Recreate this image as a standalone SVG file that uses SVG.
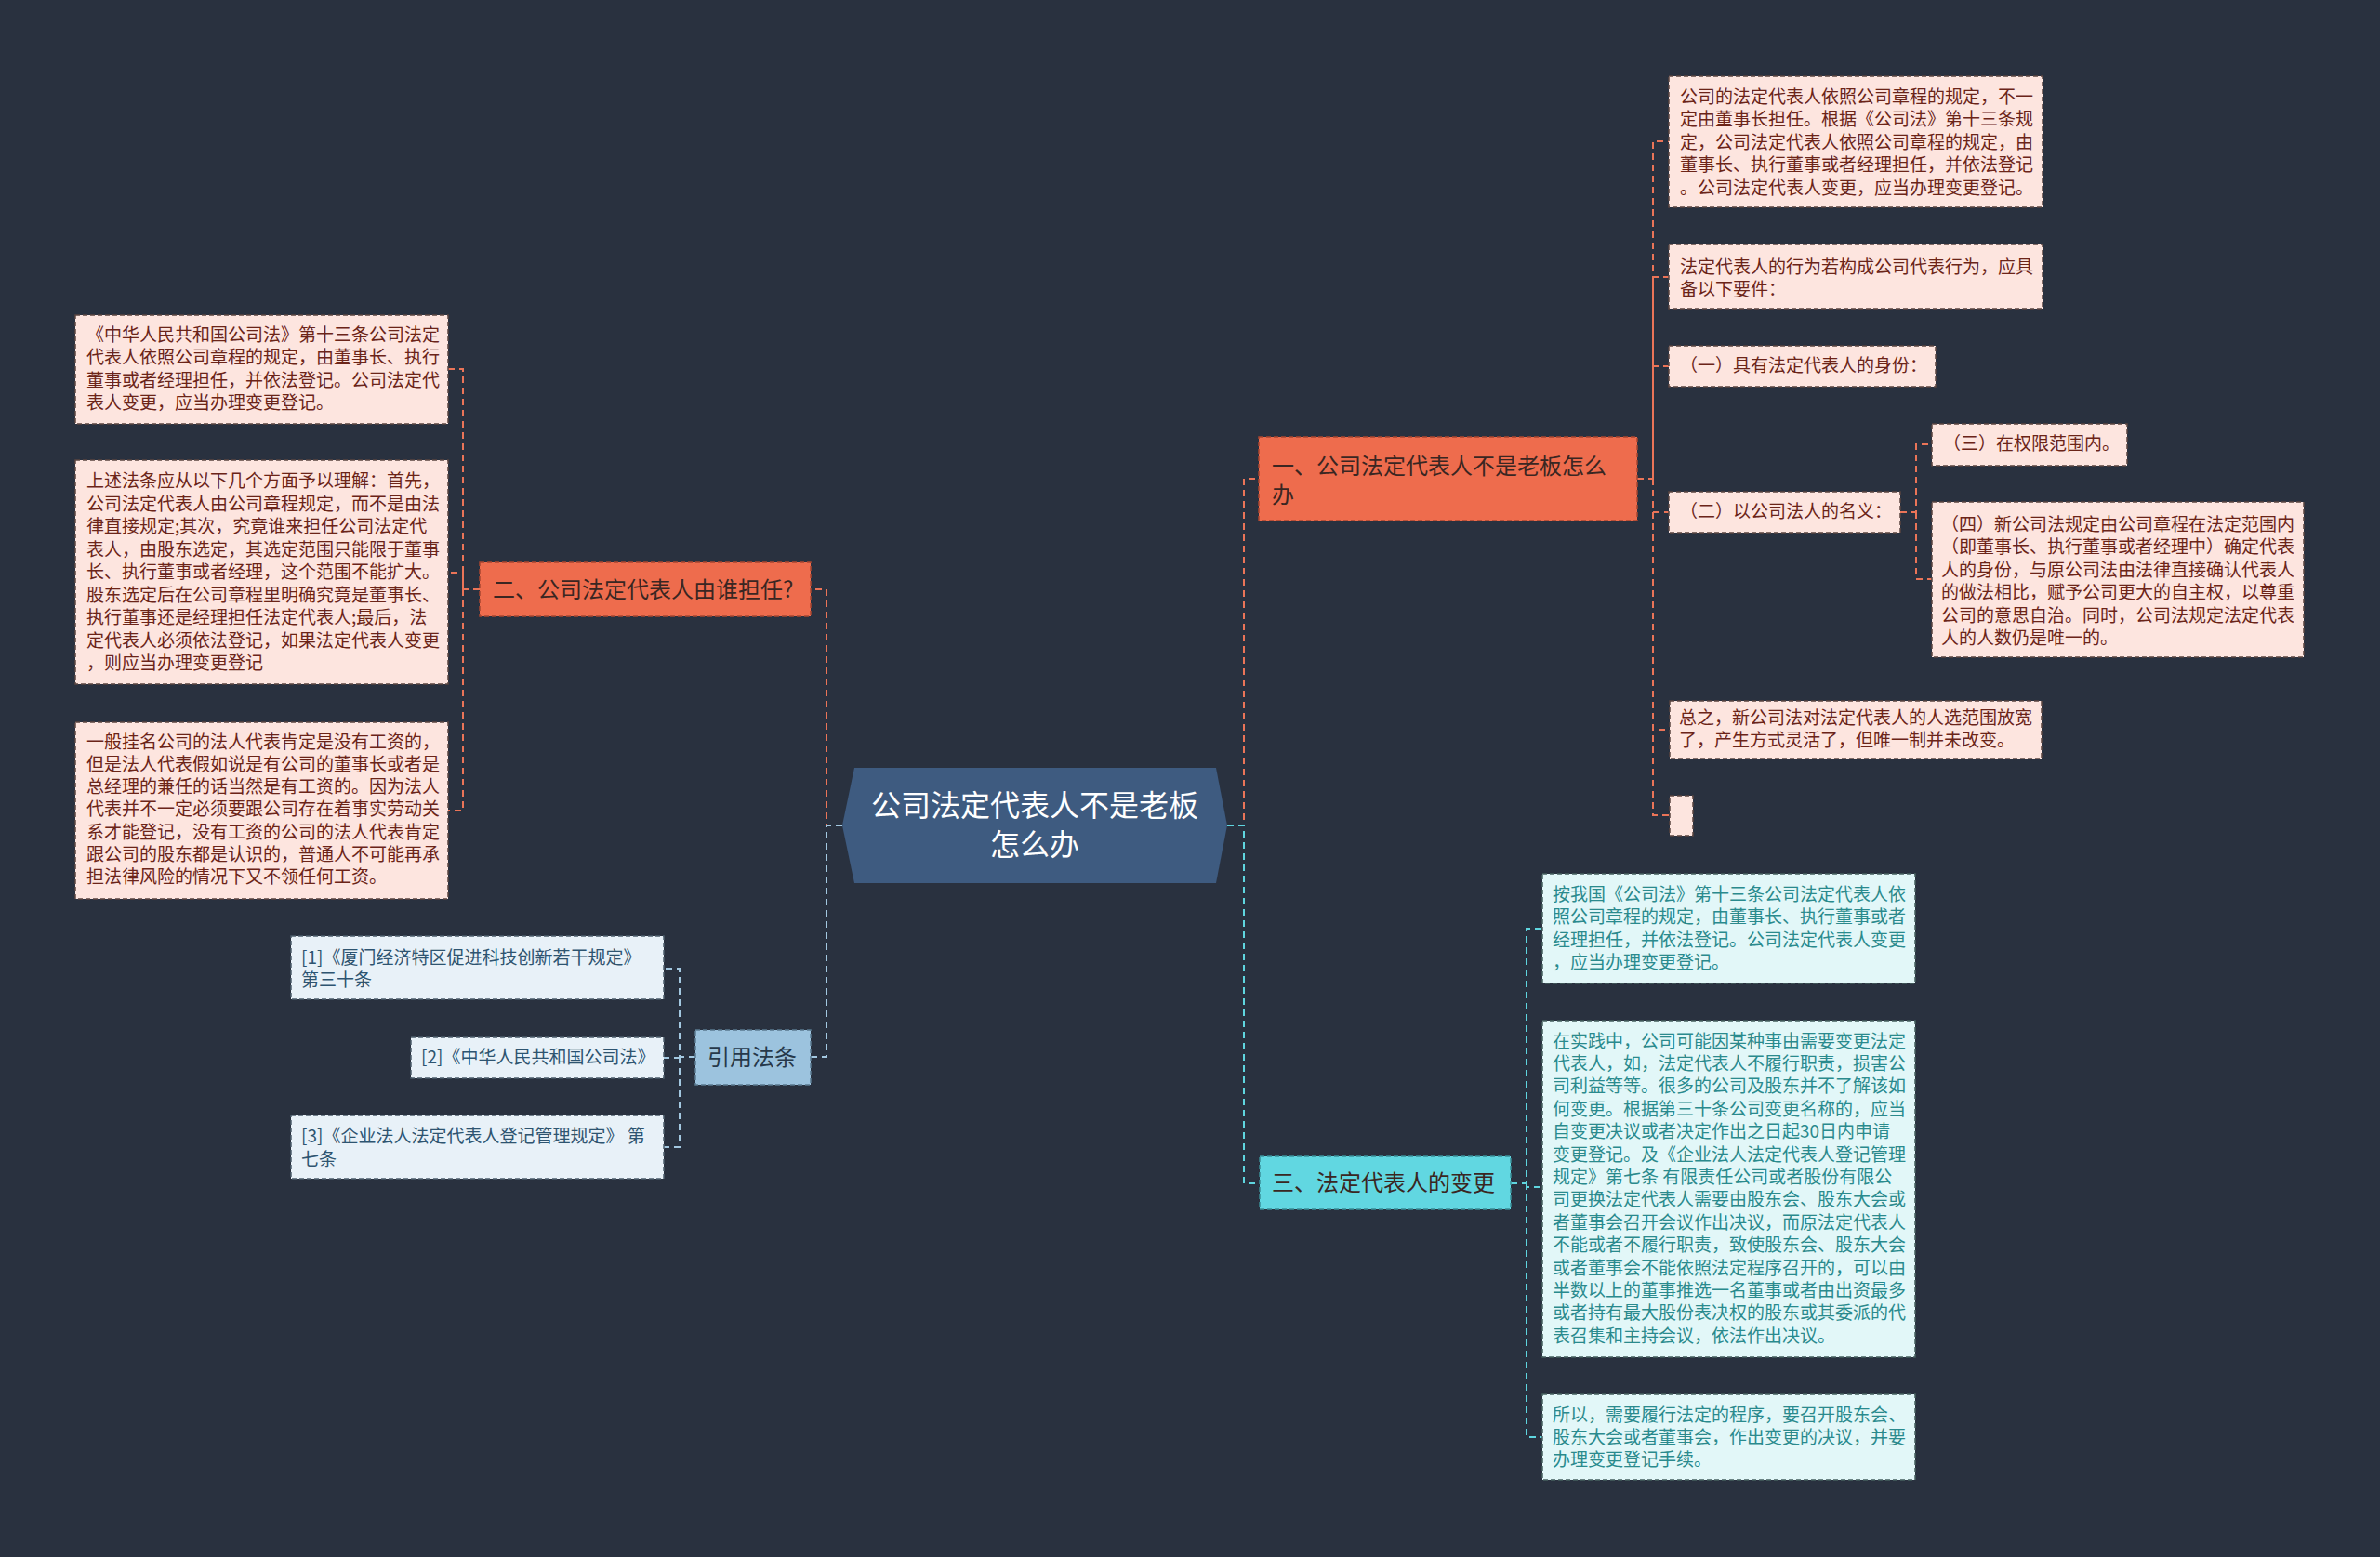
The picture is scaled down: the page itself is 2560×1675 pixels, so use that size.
<svg xmlns="http://www.w3.org/2000/svg" width="2560" height="1675" viewBox="0 0 2560 1675">
<style>
text{font-family:"Noto Sans CJK SC","Noto Sans",sans-serif;dominant-baseline:central;transform:translateY(-3px)}
.pk{fill:#fde5df;stroke:#5a4440;stroke-width:1.5;stroke-dasharray:5 3}
.cy{fill:#e2f7f8;stroke:#45605f;stroke-width:1.5;stroke-dasharray:5 3}
.rf{fill:#e8f1f8;stroke:#4c5d6c;stroke-width:1.5;stroke-dasharray:5 3}
.pt{font-size:19px;fill:#6b2418}
.ct{font-size:19px;fill:#2a8a8d}
.rt{font-size:19px;fill:#2e5470}
.mt{font-size:24px;fill:#3a2622}
.co{fill:none;stroke:#ea7458;stroke-width:2;stroke-dasharray:7 5}
.cb{fill:none;stroke:#a3c8e1;stroke-width:2;stroke-dasharray:7 5}
.cc{fill:none;stroke:#5fd5df;stroke-width:2;stroke-dasharray:7 5}
</style>
<rect width="2560" height="1675" fill="#29313f"/>
<g id="connectors">
<path class="co" d="M1320 888H1338V515H1354"/>
<path class="cc" d="M1320 888H1338V1273H1355"/>
<path class="co" d="M906 888H889V634H872"/>
<path class="cb" d="M906 888H889V1137H872"/>
<path class="co" d="M1761 515H1778V152H1795M1778 515V298H1795M1778 515V394H1795M1778 515V551H1795M1778 515V785H1796M1778 515V877H1796"/>
<path class="co" d="M2044 551H2061V478H2078M2061 551V623H2078"/>
<path class="co" d="M516 634H498V397H482M498 634V616H482M498 634V872H482"/>
<path class="cb" d="M748 1137H731V1042H714M731 1137V1138H714M731 1137V1234H714"/>
<path class="cc" d="M1625 1273H1642V999H1659M1642 1273V1277H1659M1642 1273V1546H1659"/>
</g>
<g id="center">
<polygon points="906,888 919,826 1308,826 1320,888 1308,950 919,950" fill="#3e5b80"/>
<text x="1113" y="867" font-size="32" fill="#ffffff" text-anchor="middle">公司法定代表人不是老板</text>
<text x="1113" y="909" font-size="32" fill="#ffffff" text-anchor="middle">怎么办</text>
</g>
<g id="n1">
<rect x="1354" y="470" width="407" height="90" fill="#ee6c4d" stroke="#a84630" stroke-width="1.5" stroke-dasharray="5 3"/>
<text class="mt" x="1368" y="502">一、公司法定代表人不是老板怎么</text>
<text class="mt" x="1368" y="533">办</text>
</g>
<g id="n1a">
<rect class="pk" x="1795" y="82" width="402" height="141"/>
<text class="pt" x="1807" y="105">公司的法定代表人依照公司章程的规定，不一</text>
<text class="pt" x="1807" y="129.5">定由董事长担任。根据《公司法》第十三条规</text>
<text class="pt" x="1807" y="154">定，公司法定代表人依照公司章程的规定，由</text>
<text class="pt" x="1807" y="178.5">董事长、执行董事或者经理担任，并依法登记</text>
<text class="pt" x="1807" y="203">。公司法定代表人变更，应当办理变更登记。</text>
</g>
<g id="n1b">
<rect class="pk" x="1795" y="263" width="402" height="69"/>
<text class="pt" x="1807" y="288">法定代表人的行为若构成公司代表行为，应具</text>
<text class="pt" x="1807" y="312.5">备以下要件：</text>
</g>
<g id="n1c">
<rect class="pk" x="1795" y="372" width="287" height="44"/>
<text class="pt" x="1807" y="394">（一）具有法定代表人的身份：</text>
</g>
<g id="n1d">
<rect class="pk" x="1795" y="529" width="249" height="44"/>
<text class="pt" x="1807" y="551">（二）以公司法人的名义：</text>
</g>
<g id="n1d1">
<rect class="pk" x="2078" y="456" width="210" height="45"/>
<text class="pt" x="2090" y="478.5">（三）在权限范围内。</text>
</g>
<g id="n1d2">
<rect class="pk" x="2078" y="540" width="400" height="167"/>
<text class="pt" x="2088" y="565">（四）新公司法规定由公司章程在法定范围内</text>
<text class="pt" x="2088" y="589.5">（即董事长、执行董事或者经理中）确定代表</text>
<text class="pt" x="2088" y="614">人的身份，与原公司法由法律直接确认代表人</text>
<text class="pt" x="2088" y="638.5">的做法相比，赋予公司更大的自主权，以尊重</text>
<text class="pt" x="2088" y="663">公司的意思自治。同时，公司法规定法定代表</text>
<text class="pt" x="2088" y="687.5">人的人数仍是唯一的。</text>
</g>
<g id="n1e">
<rect class="pk" x="1796" y="754" width="400" height="62"/>
<text class="pt" x="1806" y="773">总之，新公司法对法定代表人的人选范围放宽</text>
<text class="pt" x="1806" y="797">了，产生方式灵活了，但唯一制并未改变。</text>
</g>
<g id="n1f">
<rect class="pk" x="1796" y="856" width="25" height="43"/>
</g>
<g id="n2">
<rect x="516" y="605" width="356" height="58" fill="#ee6c4d" stroke="#a84630" stroke-width="1.5" stroke-dasharray="5 3"/>
<text class="mt" x="530" y="635">二、公司法定代表人由谁担任?</text>
</g>
<g id="n2a">
<rect class="pk" x="81" y="339" width="401" height="117"/>
<text class="pt" x="93" y="361">《中华人民共和国公司法》第十三条公司法定</text>
<text class="pt" x="93" y="385.5">代表人依照公司章程的规定，由董事长、执行</text>
<text class="pt" x="93" y="410">董事或者经理担任，并依法登记。公司法定代</text>
<text class="pt" x="93" y="434.5">表人变更，应当办理变更登记。</text>
</g>
<g id="n2b">
<rect class="pk" x="81" y="495" width="401" height="241"/>
<text class="pt" x="93" y="518.5">上述法条应从以下几个方面予以理解：首先，</text>
<text class="pt" x="93" y="543">公司法定代表人由公司章程规定，而不是由法</text>
<text class="pt" x="93" y="567.5">律直接规定;其次，究竟谁来担任公司法定代</text>
<text class="pt" x="93" y="592">表人，由股东选定，其选定范围只能限于董事</text>
<text class="pt" x="93" y="616.5">长、执行董事或者经理，这个范围不能扩大。</text>
<text class="pt" x="93" y="641">股东选定后在公司章程里明确究竟是董事长、</text>
<text class="pt" x="93" y="665.5">执行董事还是经理担任法定代表人;最后，法</text>
<text class="pt" x="93" y="690">定代表人必须依法登记，如果法定代表人变更</text>
<text class="pt" x="93" y="714.5">，则应当办理变更登记</text>
</g>
<g id="n2c">
<rect class="pk" x="81" y="777" width="401" height="190"/>
<text class="pt" x="93" y="799">一般挂名公司的法人代表肯定是没有工资的，</text>
<text class="pt" x="93" y="823.3">但是法人代表假如说是有公司的董事长或者是</text>
<text class="pt" x="93" y="847.6">总经理的兼任的话当然是有工资的。因为法人</text>
<text class="pt" x="93" y="871.9">代表并不一定必须要跟公司存在着事实劳动关</text>
<text class="pt" x="93" y="896.2">系才能登记，没有工资的公司的法人代表肯定</text>
<text class="pt" x="93" y="920.5">跟公司的股东都是认识的，普通人不可能再承</text>
<text class="pt" x="93" y="944.8">担法律风险的情况下又不领任何工资。</text>
</g>
<g id="n4">
<rect x="748" y="1108" width="124" height="59" fill="#9cc3de" stroke="#5a7a90" stroke-width="1.5" stroke-dasharray="5 3"/>
<text x="761" y="1138" font-size="24" fill="#26384a">引用法条</text>
</g>
<g id="n4a">
<rect class="rf" x="313" y="1007" width="401" height="68"/>
<text class="rt" x="324" y="1031">[1]《厦门经济特区促进科技创新若干规定》</text>
<text class="rt" x="324" y="1055">第三十条</text>
</g>
<g id="n4b">
<rect class="rf" x="442" y="1116" width="272" height="44"/>
<text class="rt" x="453" y="1138">[2]《中华人民共和国公司法》</text>
</g>
<g id="n4c">
<rect class="rf" x="313" y="1200" width="401" height="68"/>
<text class="rt" x="324" y="1223">[3]《企业法人法定代表人登记管理规定》 第</text>
<text class="rt" x="324" y="1248">七条</text>
</g>
<g id="n3">
<rect x="1355" y="1244" width="270" height="57" fill="#61d7e1" stroke="#3a8f98" stroke-width="1.5" stroke-dasharray="5 3"/>
<text class="mt" x="1368" y="1273" fill="#1f3a40">三、法定代表人的变更</text>
</g>
<g id="n3a">
<rect class="cy" x="1659" y="940" width="401" height="118"/>
<text class="ct" x="1670" y="963">按我国《公司法》第十三条公司法定代表人依</text>
<text class="ct" x="1670" y="987.5">照公司章程的规定，由董事长、执行董事或者</text>
<text class="ct" x="1670" y="1012">经理担任，并依法登记。公司法定代表人变更</text>
<text class="ct" x="1670" y="1036.5">，应当办理变更登记。</text>
</g>
<g id="n3b">
<rect class="cy" x="1659" y="1098" width="401" height="362"/>
<text class="ct" x="1670" y="1121">在实践中，公司可能因某种事由需要变更法定</text>
<text class="ct" x="1670" y="1145.4">代表人，如，法定代表人不履行职责，损害公</text>
<text class="ct" x="1670" y="1169.8">司利益等等。很多的公司及股东并不了解该如</text>
<text class="ct" x="1670" y="1194.2">何变更。根据第三十条公司变更名称的，应当</text>
<text class="ct" x="1670" y="1218.6">自变更决议或者决定作出之日起30日内申请</text>
<text class="ct" x="1670" y="1243">变更登记。及《企业法人法定代表人登记管理</text>
<text class="ct" x="1670" y="1267.4">规定》第七条 有限责任公司或者股份有限公</text>
<text class="ct" x="1670" y="1291.8">司更换法定代表人需要由股东会、股东大会或</text>
<text class="ct" x="1670" y="1316.2">者董事会召开会议作出决议，而原法定代表人</text>
<text class="ct" x="1670" y="1340.6">不能或者不履行职责，致使股东会、股东大会</text>
<text class="ct" x="1670" y="1365">或者董事会不能依照法定程序召开的，可以由</text>
<text class="ct" x="1670" y="1389.4">半数以上的董事推选一名董事或者由出资最多</text>
<text class="ct" x="1670" y="1413.8">或者持有最大股份表决权的股东或其委派的代</text>
<text class="ct" x="1670" y="1438.2">表召集和主持会议，依法作出决议。</text>
</g>
<g id="n3c">
<rect class="cy" x="1659" y="1500" width="401" height="92"/>
<text class="ct" x="1670" y="1523">所以，需要履行法定的程序，要召开股东会、</text>
<text class="ct" x="1670" y="1547">股东大会或者董事会，作出变更的决议，并要</text>
<text class="ct" x="1670" y="1571">办理变更登记手续。</text>
</g>
</svg>
